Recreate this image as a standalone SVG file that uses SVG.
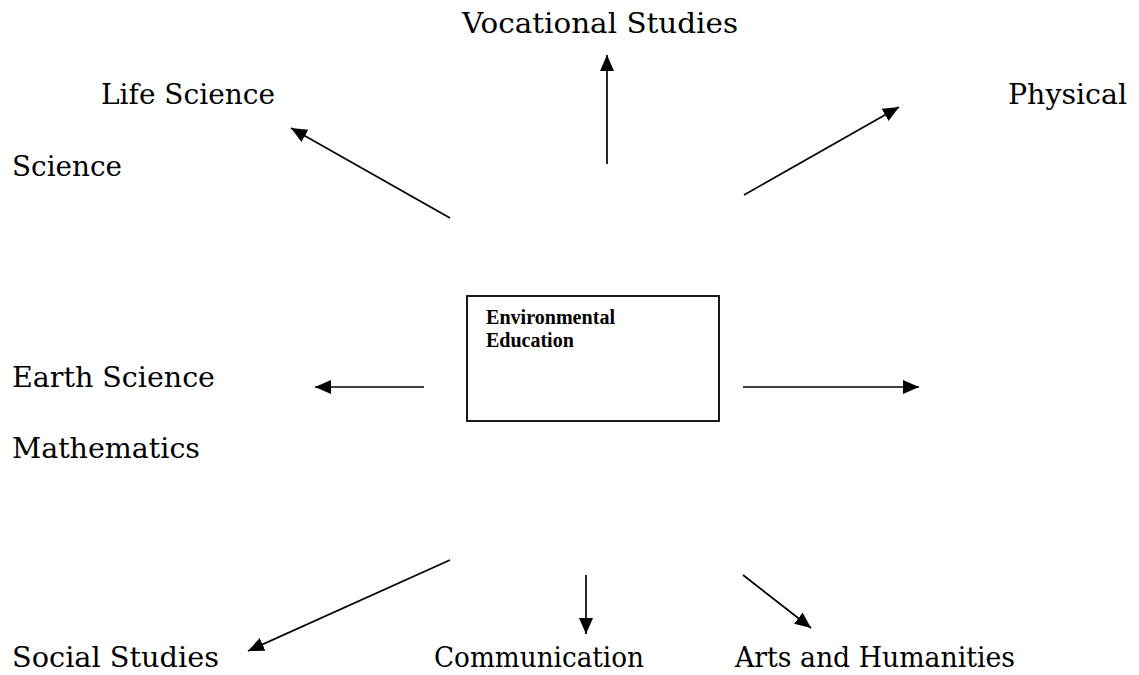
<svg xmlns="http://www.w3.org/2000/svg" width="1139" height="675" viewBox="0 0 1139 675">
<style>
.lbl{font-family:"DejaVu Serif","Liberation Serif",serif;font-size:27.5px;fill:#000}
.box{fill:#fff;stroke:#000;stroke-width:1.8}
.btxt{font-family:"Liberation Serif","Times New Roman",serif;font-size:20px;font-weight:bold;fill:#000}
.con{stroke:#000;stroke-width:1.7;fill:none;marker-end:url(#ah)}
</style>
<defs>
<marker id="ah" markerUnits="userSpaceOnUse" markerWidth="16" markerHeight="14" refX="16" refY="7" orient="auto">
<path d="M0,0 L16,7 L0,14 z" fill="#000"/>
</marker>
</defs>
<rect width="1139" height="675" fill="#fff"/>
<g id="center">
<rect class="box" x="467" y="296" width="252" height="125"/>
<text class="btxt" x="486" y="324" textLength="129" lengthAdjust="spacingAndGlyphs">Environmental</text>
<text class="btxt" x="486" y="347">Education</text>
</g>
<g id="vocational"><text class="lbl" x="462" y="33" textLength="276" lengthAdjust="spacingAndGlyphs">Vocational Studies</text></g>
<g id="life-science"><text class="lbl" x="101" y="104" textLength="174" lengthAdjust="spacingAndGlyphs">Life Science</text></g>
<g id="physical"><text class="lbl" x="1008" y="104" textLength="119" lengthAdjust="spacingAndGlyphs">Physical</text></g>
<g id="science"><text class="lbl" x="12" y="176" textLength="110" lengthAdjust="spacingAndGlyphs">Science</text></g>
<g id="earth-science"><text class="lbl" x="12" y="387" textLength="203" lengthAdjust="spacingAndGlyphs">Earth Science</text></g>
<g id="mathematics"><text class="lbl" x="12" y="458" textLength="188" lengthAdjust="spacingAndGlyphs">Mathematics</text></g>
<g id="social-studies"><text class="lbl" x="12" y="667" textLength="207" lengthAdjust="spacingAndGlyphs">Social Studies</text></g>
<g id="communication"><text class="lbl" x="434" y="667" textLength="210" lengthAdjust="spacingAndGlyphs">Communication</text></g>
<g id="arts"><text class="lbl" x="735" y="667" textLength="280" lengthAdjust="spacingAndGlyphs">Arts and Humanities</text></g>
<g id="connectors">
<line class="con" x1="450" y1="218" x2="291" y2="128"/>
<line class="con" x1="607" y1="164" x2="607" y2="55"/>
<line class="con" x1="744" y1="195" x2="899" y2="107"/>
<line class="con" x1="424" y1="387" x2="315" y2="387"/>
<line class="con" x1="743" y1="387" x2="919" y2="387"/>
<line class="con" x1="450" y1="560" x2="248" y2="651"/>
<line class="con" x1="586" y1="575" x2="586" y2="634"/>
<line class="con" x1="743" y1="575" x2="811" y2="628"/>
</g>
</svg>
